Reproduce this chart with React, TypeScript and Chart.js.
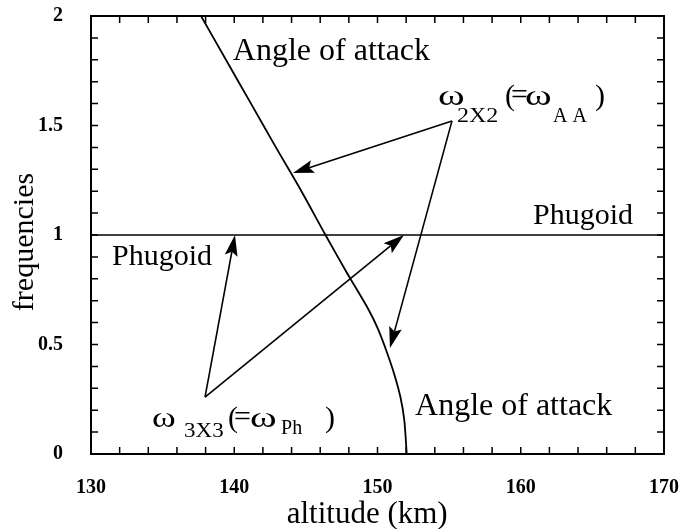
import { useEffect, useRef } from "react";
import { Chart, registerables } from "chart.js";

Chart.register(...registerables);

// Angle-of-attack mode frequency versus altitude
const aoaAltitude = [137.68, 139.42, 141.17, 142.91, 144.69, 146.37, 147.84, 149.37, 150.04, 150.68, 151.19, 151.6, 151.87, 152.04];
const aoaFrequency = [2.0, 1.8, 1.6, 1.4, 1.2, 1.0, 0.83, 0.66, 0.57, 0.46, 0.36, 0.26, 0.155, 0.0];

// Phugoid mode frequency (constant)
const phugoidAltitude = [130, 170];
const phugoidFrequency = [1, 1];

// Labelled tick values
const altitudeTickLabels = [130, 140, 150, 160, 170];
const frequencyTickLabels = [0, 0.5, 1, 1.5, 2];

// Pointer arrows: tail (altitude, frequency) -> head (altitude, frequency)
const arrowTailAltitude = [155.2, 155.2, 137.96, 137.96];
const arrowTailFrequency = [1.521, 1.521, 0.26, 0.26];
const arrowHeadAltitude = [144.1, 150.87, 140.05, 151.85];
const arrowHeadFrequency = [1.283, 0.484, 1.0, 1.0];

const SERIF = '"Liberation Serif", "Times New Roman", serif';

type Piece = { text: string; dx: number; dy: number; size: number; sx?: number };

function drawPieces(ctx: CanvasRenderingContext2D, x0: number, y0: number, pieces: Piece[]) {
  for (const p of pieces) {
    ctx.save();
    ctx.font = `${p.size}px ${SERIF}`;
    ctx.translate(x0 + p.dx, y0 + p.dy);
    if (p.sx) ctx.scale(p.sx, 1);
    ctx.fillText(p.text, 0, 0);
    ctx.restore();
  }
}

function drawArrow(ctx: CanvasRenderingContext2D, x0: number, y0: number, x1: number, y1: number) {
  const ang = Math.atan2(y1 - y0, x1 - x0);
  const L = 21;
  const W = 6.5;
  const notch = 4;
  const c = Math.cos(ang);
  const s = Math.sin(ang);
  const bx = x1 - L * c;
  const by = y1 - L * s;
  ctx.beginPath();
  ctx.moveTo(x0, y0);
  ctx.lineTo(bx + notch * c, by + notch * s);
  ctx.stroke();
  ctx.beginPath();
  ctx.moveTo(x1, y1);
  ctx.lineTo(bx - W * s, by + W * c);
  ctx.lineTo(bx + notch * c, by + notch * s);
  ctx.lineTo(bx + W * s, by - W * c);
  ctx.closePath();
  ctx.fill();
}

const framePlugin = {
  id: "frameAndNotes",
  afterDraw(chart: any) {
    const { ctx, chartArea: a, scales } = chart;
    const x = scales.x;
    const y = scales.y;
    ctx.save();
    ctx.strokeStyle = "#000";
    ctx.fillStyle = "#000";

    // inward ticks on all four sides
    const len = 7;
    ctx.lineWidth = 1.5;
    ctx.beginPath();
    for (const t of x.ticks) {
      const px = x.getPixelForValue(t.value);
      ctx.moveTo(px, a.bottom);
      ctx.lineTo(px, a.bottom - len);
      ctx.moveTo(px, a.top);
      ctx.lineTo(px, a.top + len);
    }
    for (const t of y.ticks) {
      const py = y.getPixelForValue(t.value);
      ctx.moveTo(a.left, py);
      ctx.lineTo(a.left + len, py);
      ctx.moveTo(a.right, py);
      ctx.lineTo(a.right - len, py);
    }
    ctx.stroke();

    // frame
    ctx.lineWidth = 2;
    ctx.strokeRect(a.left, a.top, a.right - a.left, a.bottom - a.top);

    // arrows
    ctx.lineWidth = 1.6;
    for (let i = 0; i < arrowTailAltitude.length; i++) {
      drawArrow(
        ctx,
        x.getPixelForValue(arrowTailAltitude[i]),
        y.getPixelForValue(arrowTailFrequency[i]),
        x.getPixelForValue(arrowHeadAltitude[i]),
        y.getPixelForValue(arrowHeadFrequency[i])
      );
    }

    // curve labels
    ctx.textAlign = "left";
    ctx.textBaseline = "alphabetic";
    const notes: [string, number, number, number][] = [
      ["Angle of attack", 139.9, 1.8, 32],
      ["Phugoid", 160.86, 1.05, 30],
      ["Phugoid", 131.47, 0.863, 30],
      ["Angle of attack", 152.62, 0.178, 32],
    ];
    for (const [txt, alt, fr, size] of notes) {
      ctx.font = `${size}px ${SERIF}`;
      ctx.fillText(txt, x.getPixelForValue(alt), y.getPixelForValue(fr));
    }

    // ω labels
    drawPieces(ctx, x.getPixelForValue(154.22), y.getPixelForValue(1.594), [
      { text: "ω", dx: 0, dy: 0, size: 30, sx: 1.35 },
      { text: "2X2", dx: 19, dy: 17, size: 20, sx: 1.2 },
      { text: "(", dx: 67, dy: 0, size: 30 },
      { text: "=", dx: 73, dy: -1, size: 30 },
      { text: "ω", dx: 87, dy: 0, size: 30, sx: 1.35 },
      { text: "A A", dx: 115, dy: 17, size: 20 },
      { text: ")", dx: 157, dy: 0, size: 30 },
    ]);
    drawPieces(ctx, x.getPixelForValue(134.26), y.getPixelForValue(0.123), [
      { text: "ω", dx: 0, dy: 0, size: 30, sx: 1.2 },
      { text: "3X3", dx: 32, dy: 10, size: 20, sx: 1.15 },
      { text: "(", dx: 76, dy: 0, size: 30 },
      { text: "=", dx: 82, dy: -1, size: 30 },
      { text: "ω", dx: 98, dy: 0, size: 30, sx: 1.35 },
      { text: "Ph", dx: 129, dy: 7, size: 20 },
      { text: ")", dx: 173, dy: 0, size: 30 },
    ]);

    // axis titles
    ctx.font = `31px ${SERIF}`;
    ctx.textAlign = "center";
    ctx.fillText("altitude (km)", a.left + (a.right - a.left) * 0.482, a.bottom + 69);
    ctx.font = `30px ${SERIF}`;
    ctx.translate(a.left - 58, (a.top + a.bottom) / 2 + 7);
    ctx.rotate(-Math.PI / 2);
    ctx.fillText("frequencies", 0, 0);
    ctx.restore();
  },
};

export default function App() {
  const canvasRef = useRef<HTMLCanvasElement | null>(null);

  useEffect(() => {
    const canvas = canvasRef.current;
    if (!canvas) return;
    const tickFont = { family: SERIF, size: 20, weight: "bold" as const };
    const noEdgePadding = (s: any) => {
      s.paddingTop = 0;
      s.paddingBottom = 0;
      s.paddingLeft = 0;
      s.paddingRight = 0;
    };
    const chart = new Chart(canvas, {
      type: "scatter",
      data: {
        datasets: [
          {
            label: "Angle of attack",
            data: aoaAltitude.map((a, i) => ({ x: a, y: aoaFrequency[i] })),
            showLine: true,
            borderColor: "#000",
            borderWidth: 1.8,
            pointRadius: 0,
            tension: 0.3,
          },
          {
            label: "Phugoid",
            data: phugoidAltitude.map((a, i) => ({ x: a, y: phugoidFrequency[i] })),
            showLine: true,
            borderColor: "#000",
            borderWidth: 1.5,
            pointRadius: 0,
          },
        ],
      },
      options: {
        animation: false,
        responsive: true,
        maintainAspectRatio: false,
        layout: { padding: { top: 16, right: 19, left: 0, bottom: 0 } },
        plugins: { legend: { display: false }, tooltip: { enabled: false } },
        scales: {
          x: {
            type: "linear",
            min: 130,
            max: 170,
            grid: { display: false, drawTicks: false },
            border: { display: false },
            afterFit: (s: any) => {
              s.height = 75;
              noEdgePadding(s);
            },
            ticks: {
              stepSize: 2,
              autoSkip: false,
              maxRotation: 0,
              padding: 22,
              color: "#000",
              font: tickFont,
              callback: (v: any) => (altitudeTickLabels.includes(Number(v)) ? String(v) : ""),
            },
          },
          y: {
            type: "linear",
            min: 0,
            max: 2,
            grid: { display: false, drawTicks: false },
            border: { display: false },
            afterFit: (s: any) => {
              s.width = 91;
              noEdgePadding(s);
            },
            ticks: {
              stepSize: 0.1,
              autoSkip: false,
              padding: 28,
              color: "#000",
              font: tickFont,
              callback: (v: any) => {
                const r = Math.round(Number(v) * 10) / 10;
                return frequencyTickLabels.includes(r) ? String(r) : "";
              },
            },
          },
        },
      },
      plugins: [framePlugin],
    });
    return () => chart.destroy();
  }, []);

  return (
    <div style={{ position: "fixed", left: 0, top: 0, width: 683, height: 529, background: "#fff" }}>
      <canvas ref={canvasRef} />
    </div>
  );
}
